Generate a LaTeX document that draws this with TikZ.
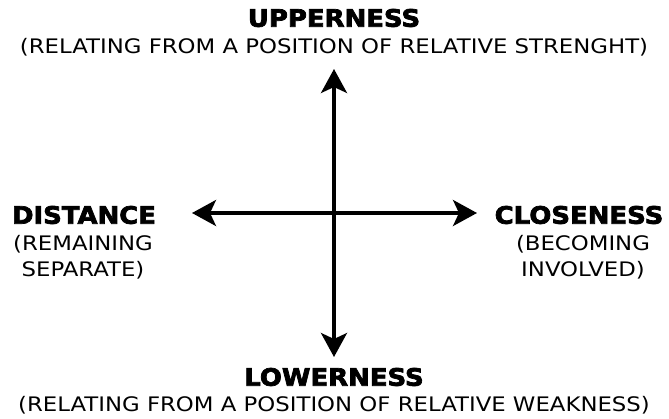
\documentclass[tikz,border=0pt]{standalone}
\usepackage{fontspec}
\setmainfont{DejaVu Sans}
\newfontfamily\ttlfont[FakeStretch=1.08,BoldFeatures={FakeBold=3}]{DejaVu Sans}
\newfontfamily\subfont[FakeStretch=1.14]{DejaVu Sans}
\usetikzlibrary{arrows.meta}
\begin{document}
\begin{tikzpicture}[x=1pt,y=-1pt,
  title/.style={font=\ttlfont\fontsize{24}{26}\selectfont\bfseries, inner sep=0pt, anchor=center},
  sub/.style={font=\subfont\fontsize{20}{26}\selectfont, inner sep=0pt, anchor=center, align=center},
  axis/.style={line width=3.5pt, -{Stealth[length=24pt,width=26pt,inset=6pt]}}]
\useasboundingbox (0,0) rectangle (669,418);
\node[title] (up) at (334,18) {UPPERNESS};
\node[sub] (upsub) at (334,47) {(RELATING FROM A POSITION OF RELATIVE STRENGHT)};
\node[title] (lo) at (334,377) {LOWERNESS};
\node[sub] (losub) at (334,405) {(RELATING FROM A POSITION OF RELATIVE WEAKNESS)};
\node[title] (di) at (84,215) {DISTANCE};
\node[sub] (disub) at (83,257) {(REMAINING\\SEPARATE)};
\node[title] (cl) at (579,215) {CLOSENESS};
\node[sub] (clsub) at (583,257) {(BECOMING\\INVOLVED)};
\coordinate (c) at (334,213);
\coordinate (ntip) at (334,69);
\coordinate (stip) at (334,357);
\coordinate (wtip) at (192,213);
\coordinate (etip) at (477,213);
\draw[axis] (c) -- (ntip);
\draw[axis] (c) -- (stip);
\draw[axis] (c) -- (wtip);
\draw[axis] (c) -- (etip);
\end{tikzpicture}
\end{document}
